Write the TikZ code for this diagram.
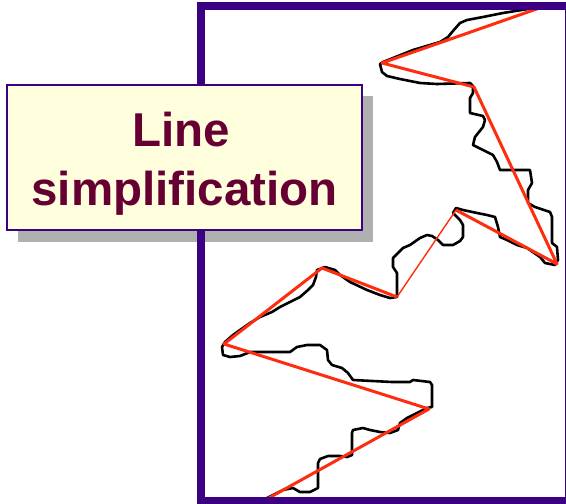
\documentclass[tikz,border=0pt]{standalone}
\usepackage{fontspec}
\setmainfont{Liberation Sans}
\definecolor{framecol}{RGB}{60,0,130}
\definecolor{boxfill}{RGB}{255,255,221}
\definecolor{shadowcol}{RGB}{176,176,176}
\definecolor{textcol}{RGB}{102,0,51}
\definecolor{redline}{RGB}{255,45,15}
\tikzset{
  wiggle/.style={draw=black,line width=2.6pt,line join=round,line cap=round},
  simple/.style={draw=redline,line width=3pt,line join=round},
  simplethin/.style={draw=redline,line width=1.4pt},
  labeltext/.style={anchor=base,text=textcol,font=\fontsize{47.5}{59}\selectfont\bfseries,inner sep=0pt}
}
\begin{document}
\begin{tikzpicture}[x=1pt,y=-1pt]
\useasboundingbox (0,0) rectangle (566,504);
\clip (0,0) rectangle (566,504);
\fill[white] (0,0) rectangle (566,504);
% original line
\draw[wiggle] (538,4) -- (528,9) -- (503,13) -- (483,17) -- (467,20) -- (460,23) -- (453,31) -- (448,37) -- (440,42) -- (413,50) -- (383,62) -- (380,64) -- (382,72) -- (387,76) -- (400,79) -- (420,83) -- (437,84) -- (470,83) -- (473,86) -- (473,93) -- (470,98) -- (470,113) -- (483,116) -- (485,120) -- (483,127) -- (475,137) -- (473,145) -- (483,150) -- (493,155) -- (497,162) -- (500,170) -- (530,170) -- (532,183) -- (528,190) -- (528,203) -- (535,207) -- (550,212) -- (552,217) -- (552,243) -- (557,247) -- (558,260) -- (555,265) -- (545,263) -- (540,257) -- (527,248) -- (517,245) -- (507,240) -- (500,237) -- (498,227) -- (495,217) -- (487,215) -- (477,213) -- (463,210) -- (456,208) -- (453,213) -- (460,220) -- (463,225) -- (463,237) -- (460,241) -- (453,245) -- (443,245) -- (438,240) -- (432,236) -- (427,235) -- (420,238) -- (410,245) -- (403,248) -- (398,253) -- (393,258) -- (393,267) -- (397,273) -- (397,290) -- (397,297) -- (390,298) -- (380,295) -- (367,290) -- (350,282) -- (340,275) -- (335,270) -- (325,267) -- (317,270) -- (316,277) -- (313,285) -- (308,290) -- (300,297) -- (290,302) -- (280,307) -- (272,312) -- (260,317) -- (250,323) -- (240,330) -- (233,335) -- (225,342) -- (222,347) -- (223,355) -- (230,357) -- (240,356) -- (250,352) -- (290,352) -- (297,347) -- (307,345) -- (320,345) -- (327,350) -- (328,360) -- (332,365) -- (342,368) -- (348,373) -- (353,380) -- (392,382) -- (410,382) -- (413,380) -- (430,382) -- (432,385) -- (432,407) -- (427,408) -- (417,413) -- (407,418) -- (400,423) -- (398,430) -- (390,433) -- (380,432) -- (370,430) -- (363,428) -- (353,430) -- (352,433) -- (352,455) -- (347,457) -- (340,456) -- (328,456) -- (320,459) -- (318,463) -- (318,488) -- (310,492) -- (300,492) -- (293,488) -- (283,490) -- (277,493) -- (267,498) -- (258,503);
% simplified line
\coordinate (r1) at (548,5);
\coordinate (r2) at (382,63);
\coordinate (r3) at (474,87);
\coordinate (r4) at (557,264);
\coordinate (r5) at (456,210);
\coordinate (r6) at (397,297);
\coordinate (r7) at (322,268);
\coordinate (r8) at (224,344);
\coordinate (r9) at (429,409);
\coordinate (r10) at (258,504);
\draw[simple] (r1) -- (r2) -- (r3) -- (r4) -- (r5);
\draw[simplethin] (r5) -- (r6);
\draw[simple] (r6) -- (r7) -- (r8) -- (r9) -- (r10);
% label shadow
\fill[shadowcol] (18,96) rectangle (373,242);
% frame
\draw[framecol,line width=8pt] (201,6) rectangle (569,500.5);
% label box
\node[draw=framecol,line width=2pt,fill=boxfill,inner sep=0pt,minimum width=355pt,minimum height=145pt] (box) at (184.5,157.5) {};
\node[labeltext] (t1) at (181,146) {Line};
\node[labeltext] (t2) at (184.5,205) {simplification};
\end{tikzpicture}
\end{document}
